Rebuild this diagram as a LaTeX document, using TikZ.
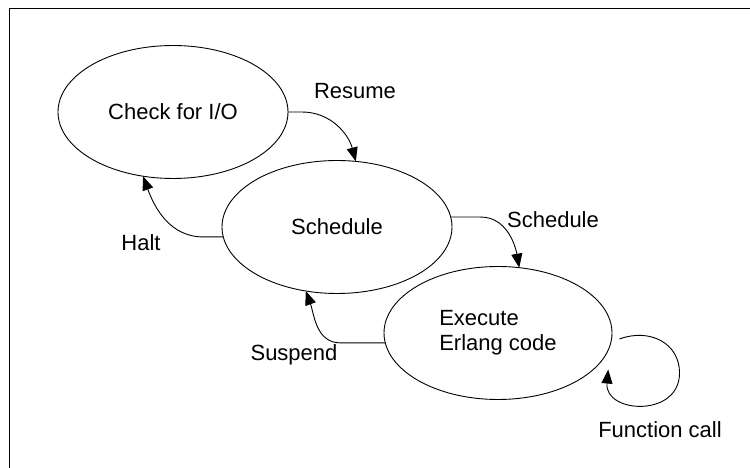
\documentclass[tikz,border=0pt]{standalone}
\usepackage{fontspec}
\setmainfont{Liberation Sans}
\usetikzlibrary{arrows.meta,shapes.geometric}
\begin{document}
\begin{tikzpicture}[x=1pt,y=1pt,inner sep=0pt,outer sep=0pt,line width=0.9pt,
state/.style={draw,ellipse,minimum width=230pt,minimum height=133pt,align=left,font=\fontsize{22}{25}\selectfont},
lbl/.style={font=\fontsize{22}{25}\selectfont},
flow/.style={-{Triangle[length=14pt,width=11pt]}}]
\useasboundingbox (0,0) rectangle (750,468);
\draw (9,-10) -- (9,460) -- (760,460);

\draw (173,356) node[state] (chk) {Check for I/O};
\draw (337,241) node[state] (sched) {Schedule};
\draw (498,135) node[state,minimum width=228pt] (exec) {Execute\\Erlang code};

\draw[flow] (chk.east) -- ++(14,0) to[out=0,in=105] (sched.74);
\draw[flow] (sched.185) -- ++(-20,0) to[out=180,in=-70] (chk.245);
\draw[flow] (sched.5) -- ++(30,0) to[out=0,in=100] (exec.72);
\draw[flow] (exec.185) -- ++(-45,0) to[out=180,in=-70] (sched.244);
\draw[flow] ([xshift=8pt]exec.-3) .. controls +(30,11) and +(0,30) .. ++(60,-34)
  .. controls +(0,-45) and +(-4,-44) .. ([xshift=15pt]exec.-21);

\node[lbl] (resume) at (355,377) {Resume};
\node[lbl] (halt) at (141,225) {Halt};
\node[lbl] (schedlbl) at (553,248) {Schedule};
\node[lbl] (suspend) at (294,113) {Suspend};
\node[lbl] (fcall) at (660,38) {Function call};
\end{tikzpicture}
\end{document}
